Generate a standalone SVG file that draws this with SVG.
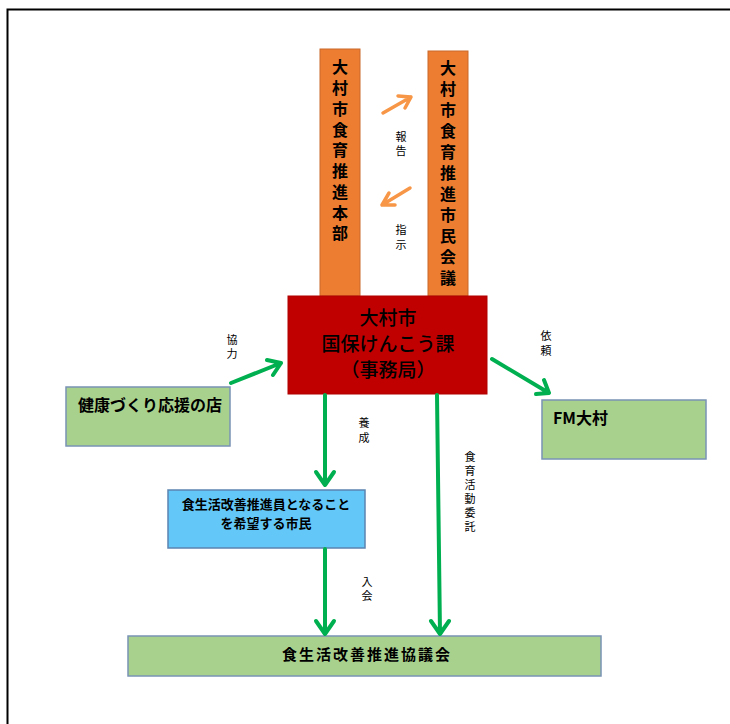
<svg xmlns="http://www.w3.org/2000/svg" width="730" height="724" viewBox="0 0 730 724">
<style>
text{font-family:"Noto Sans CJK JP","Liberation Sans",sans-serif;fill:#000}
.orange{fill:#ED7D31;stroke:#C9682A;stroke-width:1}
.green{fill:#A9D18E;stroke:#7A93B5;stroke-width:1.5}
.v{font-size:16px;font-weight:bold;text-anchor:middle}
.lbl{font-size:11px;text-anchor:middle}
.ga{stroke:#00B050;stroke-width:4;fill:none;stroke-linecap:round;stroke-linejoin:round}
.oa{stroke:#F79646;stroke-width:3.5;fill:none;stroke-linecap:round;stroke-linejoin:round}
</style>
<rect x="0" y="0" width="730" height="724" fill="#fff"/>
<path d="M7.5 724 V9.5 H730" fill="none" stroke="#000" stroke-width="2"/>

<g id="honbu">
<rect class="orange" x="320" y="49" width="40" height="247"/>
<text class="v" x="340" y="73">大</text>
<text class="v" x="340" y="94">村</text>
<text class="v" x="340" y="115">市</text>
<text class="v" x="340" y="136">食</text>
<text class="v" x="340" y="156">育</text>
<text class="v" x="340" y="177">推</text>
<text class="v" x="340" y="198">進</text>
<text class="v" x="340" y="219">本</text>
<text class="v" x="340" y="239">部</text>
</g>

<g id="shiminkaigi">
<rect class="orange" x="428" y="51" width="40" height="245"/>
<text class="v" x="448" y="74">大</text>
<text class="v" x="448" y="95">村</text>
<text class="v" x="448" y="116">市</text>
<text class="v" x="448" y="137">食</text>
<text class="v" x="448" y="158">育</text>
<text class="v" x="448" y="179">推</text>
<text class="v" x="448" y="200">進</text>
<text class="v" x="448" y="221">市</text>
<text class="v" x="448" y="242">民</text>
<text class="v" x="448" y="263">会</text>
<text class="v" x="448" y="284">議</text>
</g>

<g id="jimukyoku">
<rect x="288" y="296" width="199" height="98" fill="#C00000" stroke="#B00000"/>
<text x="388" y="325" font-size="19" font-weight="500" text-anchor="middle">大村市</text>
<text x="388" y="351" font-size="19" font-weight="500" text-anchor="middle">国保けんこう課</text>
<text x="388" y="377" font-size="19" font-weight="500" text-anchor="middle">（事務局）</text>
</g>

<g id="kenko">
<rect class="green" x="66" y="387" width="164" height="59"/>
<text x="78" y="411" font-size="16" font-weight="bold">健康づくり応援の店</text>
</g>

<g id="fm">
<rect class="green" x="542" y="400" width="164" height="59"/>
<text x="553" y="424" font-size="16" font-weight="bold">FM大村</text>
</g>

<g id="kibou">
<rect x="168" y="490" width="197" height="58" fill="#63C8F8" stroke="#5B84B1" stroke-width="1.5"/>
<text x="266" y="509" font-size="13" font-weight="bold" text-anchor="middle">食生活改善推進員となること</text>
<text x="266" y="528" font-size="13" font-weight="bold" text-anchor="middle">を希望する市民</text>
</g>

<g id="kyougikai">
<rect class="green" x="128" y="636" width="473" height="40"/>
<text x="367" y="660" font-size="15" font-weight="bold" letter-spacing="2" text-anchor="middle">食生活改善推進協議会</text>
</g>

<g id="connectors">
<path class="oa" d="M383 113 L411 97 M398 96 L411 97 L405 108"/>
<path class="oa" d="M410 188 L382 205 M389 193 L382 205 L395 205"/>
<path class="ga" d="M231 383 L281 363 M267 360 L281 363 L273 375"/>
<path class="ga" d="M492 359 L549 393 M536 394 L549 393 L544 380"/>
<path class="ga" d="M325 395 L325 485 M316 472 L325 485 L334 472"/>
<path class="ga" d="M325 549 L325 634 M316 621 L325 634 L334 621"/>
<path class="ga" d="M437 395 L440 634 M431 621 L440 634 L449 621"/>
</g>

<g id="labels">
<text class="lbl" x="401" y="141">報</text>
<text class="lbl" x="401" y="155">告</text>
<text class="lbl" x="401" y="234">指</text>
<text class="lbl" x="401" y="249">示</text>
<text class="lbl" x="232" y="344">協</text>
<text class="lbl" x="232" y="358">力</text>
<text class="lbl" x="546" y="340">依</text>
<text class="lbl" x="546" y="355">頼</text>
<text class="lbl" x="364" y="427">養</text>
<text class="lbl" x="364" y="442">成</text>
<text class="lbl" x="367" y="586">入</text>
<text class="lbl" x="367" y="600">会</text>
<text class="lbl" x="470" y="461">食</text>
<text class="lbl" x="470" y="475">育</text>
<text class="lbl" x="470" y="489">活</text>
<text class="lbl" x="470" y="503">動</text>
<text class="lbl" x="470" y="517">委</text>
<text class="lbl" x="470" y="531">託</text>
</g>
</svg>
